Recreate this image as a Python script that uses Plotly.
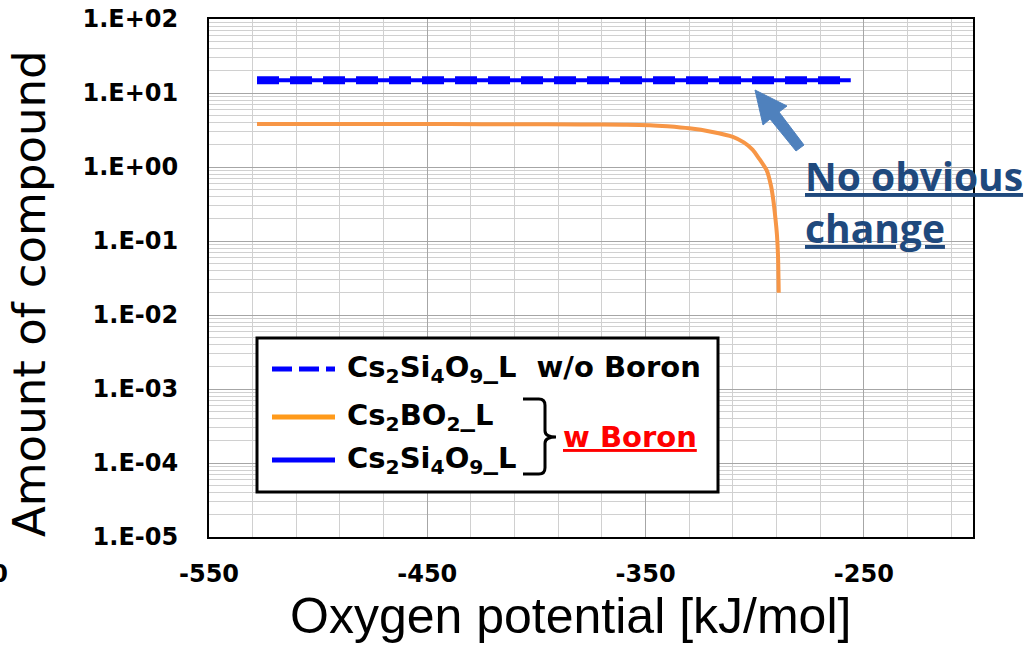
import plotly.graph_objects as go

# Oxygen potential [kJ/mol] and amount of compound
x_wo_boron = [-528, -500, -450, -400, -350, -300, -256]
cs2si4o9_wo_boron = [14.9, 14.9, 14.9, 14.9, 14.9, 14.9, 14.9]

x_w_boron_si = [-528, -500, -450, -400, -350, -300, -256]
cs2si4o9_w_boron = [14.9, 14.9, 14.9, 14.9, 14.9, 14.9, 14.9]

x_w_boron_b = [-528, -500, -470, -440, -410, -380, -360, -348, -340, -330, -320,
               -310, -305, -301, -298, -294.5, -292.5, -291.5, -290.5, -289.8,
               -289.3, -289]
cs2bo2_w_boron = [3.82, 3.82, 3.81, 3.80, 3.79, 3.76, 3.72, 3.68, 3.55, 3.33, 3.0,
                  2.56, 2.15, 1.72, 1.3, 0.9, 0.55, 0.36, 0.2, 0.12, 0.06, 0.02]

x_tick_vals = [-550, -450, -350, -250]
x_tick_text = ["-550", "-450", "-350", "-250"]
y_tick_vals = [1e-5, 1e-4, 1e-3, 1e-2, 1e-1, 1e0, 1e1, 1e2]
y_tick_text = ["1.E-05", "1.E-04", "1.E-03", "1.E-02", "1.E-01", "1.E+00", "1.E+01", "1.E+02"]

BLUE = "#0000FF"
ORANGE = "#F79646"
ORANGE_KEY = "#FF9A1A"
ARROW = "#4F81BD"
NOTE = "#1F497D"

# plot area in pixels
L, R, T, B = 209, 973, 19, 537
W, H = 1031, 646


def px(xp):
    return (xp - L) / (R - L)


def py(yp):
    return (B - yp) / (B - T)


fig = go.Figure()

fig.add_trace(go.Scatter(x=x_w_boron_si, y=cs2si4o9_w_boron, mode="lines",
                         line=dict(color=BLUE, width=4), showlegend=False))
fig.add_trace(go.Scatter(x=x_wo_boron, y=cs2si4o9_wo_boron, mode="lines",
                         line=dict(color=BLUE, width=8, dash="22px,11px"),
                         showlegend=False))
fig.add_trace(go.Scatter(x=x_w_boron_b, y=cs2bo2_w_boron, mode="lines",
                         line=dict(color=ORANGE, width=4, shape="spline", smoothing=0.5),
                         showlegend=False))

minor_y = [k * 10 ** e for e in range(-5, 2) for k in range(2, 10)]

fig.update_xaxes(
    range=[-550, -200], tickvals=x_tick_vals, ticktext=x_tick_text,
    showgrid=True, gridcolor="#A6A6A6", gridwidth=1,
    minor=dict(dtick=20, tick0=-550, showgrid=True, gridcolor="#D0D0D0", gridwidth=1),
    showline=True, linecolor="black", linewidth=2, mirror=True,
    zeroline=False, ticks="", ticklabelstandoff=14, automargin=False,
    tickfont=dict(family="DejaVu Sans", size=24, color="black", weight="bold"),
)
fig.update_yaxes(
    type="log", range=[-5, 2], tickvals=y_tick_vals, ticktext=y_tick_text,
    showgrid=True, gridcolor="#A6A6A6", gridwidth=1,
    minor=dict(tickvals=minor_y, showgrid=True, gridcolor="#D0D0D0", gridwidth=1),
    showline=True, linecolor="black", linewidth=2, mirror=True,
    zeroline=False, ticks="", ticklabelstandoff=24, automargin=False,
    tickfont=dict(family="DejaVu Sans", size=24, color="black", weight="bold"),
)

shapes = []
annotations = []

# legend box
shapes.append(dict(type="rect", xref="paper", yref="paper",
                   x0=px(257), x1=px(718), y0=py(492), y1=py(338),
                   line=dict(color="black", width=3), fillcolor="white", layer="above"))
# legend line samples
shapes.append(dict(type="line", xref="paper", yref="paper",
                   x0=px(272), x1=px(335), y0=py(369), y1=py(369),
                   line=dict(color=BLUE, width=5, dash="20px,7px"), layer="above"))
shapes.append(dict(type="line", xref="paper", yref="paper",
                   x0=px(272), x1=px(335), y0=py(417), y1=py(417),
                   line=dict(color=ORANGE_KEY, width=5), layer="above"))
shapes.append(dict(type="line", xref="paper", yref="paper",
                   x0=px(272), x1=px(335), y0=py(460), y1=py(460),
                   line=dict(color=BLUE, width=5), layer="above"))

# brace grouping the two "w Boron" entries
bx0, bx1, bxn = px(523), px(545), px(556)
by_top, by_mid, by_bot = py(399), py(437), py(474)
r = 0.012
brace = (f"M {bx0} {by_top} L {bx1 - 0.008} {by_top} Q {bx1} {by_top} {bx1} {by_top - r} "
         f"L {bx1} {by_mid + r} Q {bx1} {by_mid} {bxn} {by_mid} "
         f"Q {bx1} {by_mid} {bx1} {by_mid - r} "
         f"L {bx1} {by_bot + r} Q {bx1} {by_bot} {bx1 - 0.008} {by_bot} L {bx0} {by_bot}")
shapes.append(dict(type="path", xref="paper", yref="paper", path=brace,
                   line=dict(color="black", width=3), layer="above"))

# block arrow pointing at the unchanged Cs2Si4O9 curve
arrow_pts = [(755, 90), (787, 106), (779, 112), (804, 145), (796, 151),
             (770, 119), (763, 125)]
arrow_path = "M " + " L ".join(f"{px(a)} {py(b)}" for a, b in arrow_pts) + " Z"
shapes.append(dict(type="path", xref="paper", yref="paper", path=arrow_path,
                   line=dict(color=ARROW, width=1), fillcolor=ARROW, layer="above"))

legend_font = dict(family="DejaVu Sans", size=29, color="black", weight="bold")
annotations.append(dict(xref="paper", yref="paper", x=px(345), y=py(369),
                        xanchor="left", yanchor="middle", showarrow=False,
                        text="Cs<sub>2</sub>Si<sub>4</sub>O<sub>9</sub>_L\u00a0\u00a0w/o Boron",
                        font=legend_font))
annotations.append(dict(xref="paper", yref="paper", x=px(345), y=py(417),
                        xanchor="left", yanchor="middle", showarrow=False,
                        text="Cs<sub>2</sub>BO<sub>2</sub>_L", font=legend_font))
annotations.append(dict(xref="paper", yref="paper", x=px(345), y=py(460),
                        xanchor="left", yanchor="middle", showarrow=False,
                        text="Cs<sub>2</sub>Si<sub>4</sub>O<sub>9</sub>_L", font=legend_font))
annotations.append(dict(xref="paper", yref="paper", x=px(561), y=py(437),
                        xanchor="left", yanchor="middle", showarrow=False,
                        text="w Boron",
                        font=dict(family="DejaVu Sans", size=29, color="#FF0000",
                                  weight="bold", lineposition="under")))

note_font = dict(family="Open Sans", size=39, color=NOTE, weight="bold",
                 lineposition="under")
annotations.append(dict(xref="paper", yref="paper", x=px(803), y=py(176),
                        xanchor="left", yanchor="middle", showarrow=False,
                        text="No obvious", font=note_font))
annotations.append(dict(xref="paper", yref="paper", x=px(803), y=py(228),
                        xanchor="left", yanchor="middle", showarrow=False,
                        text="change", font=note_font))

# axis titles
annotations.append(dict(xref="paper", yref="paper", x=px(30), y=py(294),
                        xanchor="center", yanchor="middle", showarrow=False,
                        textangle=-90, text="Amount of compound",
                        font=dict(family="DejaVu Sans", size=45, color="black")))
annotations.append(dict(xref="paper", yref="paper", x=px(570), y=py(616),
                        xanchor="center", yanchor="middle", showarrow=False,
                        text="Oxygen potential [kJ/mol]",
                        font=dict(family="Liberation Sans", size=50, color="black")))
# neighbouring tick label at the left edge
annotations.append(dict(xref="paper", yref="paper", x=px(-22), y=py(574),
                        xanchor="center", yanchor="middle", showarrow=False,
                        text="-650",
                        font=dict(family="DejaVu Sans", size=24, color="black", weight="bold")))

fig.update_layout(
    width=W, height=H,
    margin=dict(l=L, r=W - R, t=T, b=H - B),
    paper_bgcolor="white", plot_bgcolor="white",
    shapes=shapes, annotations=annotations, showlegend=False,
)

fig.write_html("out.html")
